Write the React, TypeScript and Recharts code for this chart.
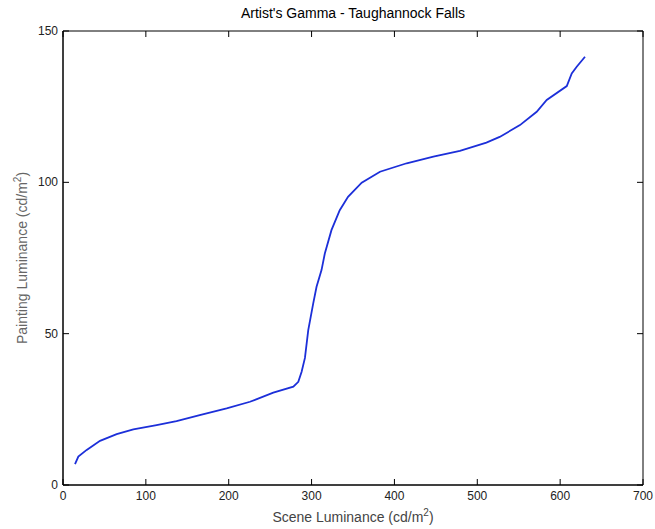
import { LineChart, Line, XAxis, YAxis, ReferenceArea } from 'recharts';

// Scene luminance (cd/m²) vs painting luminance (cd/m²)
const sceneLum = [
  14.5, 18.5, 28.6, 44.7, 64.8, 84.9, 113, 137, 165, 197.5, 225.7, 253.8, 278, 284, 288, 292, 296,
  302, 306, 312, 316, 324, 334, 344, 360.5, 382.6, 414.8, 447, 479, 511, 527, 551.5, 571.7, 583.8,
  608, 614, 620, 630,
];
const paintLum = [
  6.9, 9.4, 11.6, 14.6, 16.8, 18.4, 19.8, 21.1, 23.1, 25.3, 27.5, 30.5, 32.5, 34.1, 37.4, 42, 51.2,
  60, 65.5, 71, 76.5, 84.2, 90.8, 95.2, 99.9, 103.5, 106.3, 108.5, 110.4, 113.1, 115, 118.9, 123.3,
  127.2, 131.8, 136, 138.2, 141.5,
];
const xTicks = [0, 100, 200, 300, 400, 500, 600, 700];
const yTicks = [0, 50, 100, 150];

const data = sceneLum.map((x, i) => ({ x, y: paintLum[i] }));

const W = 655;
const H = 529;
const PLOT_LEFT = 63;
const PLOT_RIGHT = 643;
const PLOT_TOP = 31;
const PLOT_BOTTOM = 485;
const TICK = 6;
const FONT = 'Liberation Sans, Arial, Helvetica, sans-serif';

// ticks go inward, matlab style, mirrored on the top/right edges
function XTick(props: any) {
  const { x, y, payload } = props;
  return (
    <g>
      <line x1={x} x2={x} y1={y} y2={y - TICK} stroke="#000" />
      <line x1={x} x2={x} y1={PLOT_TOP} y2={PLOT_TOP + TICK} stroke="#000" />
      <text x={x} y={y + 15} textAnchor="middle" fontSize={12} fill="#222" fontFamily={FONT}>
        {payload.value}
      </text>
    </g>
  );
}

function YTick(props: any) {
  const { x, y, payload } = props;
  return (
    <g>
      <line x1={x} x2={x + TICK} y1={y} y2={y} stroke="#000" />
      <line x1={PLOT_RIGHT} x2={PLOT_RIGHT - TICK} y1={y} y2={y} stroke="#000" />
      <text x={x - 5} y={y + 4} textAnchor="end" fontSize={12} fill="#222" fontFamily={FONT}>
        {payload.value}
      </text>
    </g>
  );
}

export default function App() {
  return (
    <div style={{ position: 'absolute', left: 0, top: 0, width: W, height: H, background: '#fff', fontFamily: FONT }}>
      <LineChart
        width={W}
        height={H}
        data={data}
        margin={{ top: PLOT_TOP, right: W - PLOT_RIGHT, bottom: 0, left: 0 }}
      >
        <XAxis
          dataKey="x"
          type="number"
          domain={[0, 700]}
          ticks={xTicks}
          height={H - PLOT_BOTTOM}
          tickSize={0}
          tickMargin={0}
          tickLine={false}
          axisLine={{ stroke: '#000' }}
          tick={<XTick />}
          interval={0}
        />
        <YAxis
          type="number"
          domain={[0, 150]}
          ticks={yTicks}
          width={PLOT_LEFT}
          tickSize={0}
          tickMargin={0}
          tickLine={false}
          axisLine={{ stroke: '#000' }}
          tick={<YTick />}
          interval={0}
        />
        <ReferenceArea x1={0} x2={700} y1={0} y2={150} fill="none" stroke="#000" strokeOpacity={1} />
        <Line
          type="linear"
          dataKey="y"
          stroke="#1c2fd9"
          strokeWidth={1.8}
          dot={false}
          isAnimationActive={false}
        />
      </LineChart>

      <div
        style={{
          position: 'absolute',
          left: PLOT_LEFT,
          width: PLOT_RIGHT - PLOT_LEFT,
          top: 5,
          textAlign: 'center',
          fontSize: 14,
          color: '#000',
        }}
      >
        Artist's Gamma - Taughannock Falls
      </div>
      <div
        style={{
          position: 'absolute',
          left: PLOT_LEFT,
          width: PLOT_RIGHT - PLOT_LEFT,
          top: 507,
          textAlign: 'center',
          fontSize: 14,
          color: '#444',
        }}
      >
        Scene Luminance (cd/m<sup style={{ fontSize: 10 }}>2</sup>)
      </div>
      <div
        style={{
          position: 'absolute',
          left: 21,
          top: (PLOT_TOP + PLOT_BOTTOM) / 2,
          transform: 'translate(-50%, -50%) rotate(-90deg)',
          whiteSpace: 'nowrap',
          fontSize: 14,
          color: '#666',
        }}
      >
        Painting Luminance (cd/m<sup style={{ fontSize: 10 }}>2</sup>)
      </div>
    </div>
  );
}
